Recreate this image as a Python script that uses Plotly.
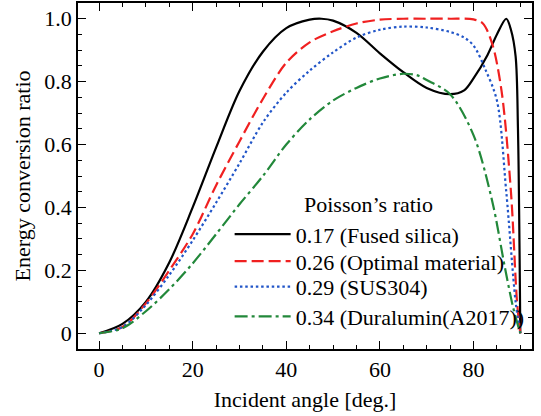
import plotly.graph_objects as go

# Fused silica, nu = 0.17
ang_fs = [0, 5, 10, 15, 20, 25, 30, 35, 40, 45, 47.5, 50, 55, 60, 65, 70, 75, 78, 80, 83, 85, 87, 88, 89, 89.5, 90]
val_fs = [0, 0.03, 0.10, 0.225, 0.40, 0.59, 0.77, 0.895, 0.97, 0.997, 1.0, 0.994, 0.955, 0.89, 0.83, 0.78, 0.76, 0.772, 0.81, 0.885, 0.95, 1.0, 0.965, 0.88, 0.65, 0]

# Optimal material, nu = 0.26
ang_om = [0, 5, 10, 15, 20, 25, 30, 35, 40, 45, 50, 55, 60, 65, 70, 75, 80, 82, 84, 86, 88, 89.3, 90]
val_om = [0, 0.02, 0.095, 0.20, 0.315, 0.47, 0.61, 0.745, 0.86, 0.925, 0.96, 0.985, 0.997, 1.0, 1.0, 1.0, 0.998, 0.985, 0.92, 0.77, 0.45, 0.1, 0]

# SUS304, nu = 0.29
ang_sus = [0, 5, 10, 15, 20, 25, 30, 35, 40, 45, 50, 55, 60, 65, 70, 75, 78, 80, 82.5, 85, 87, 89, 90]
val_sus = [0, 0.02, 0.09, 0.185, 0.295, 0.415, 0.54, 0.67, 0.765, 0.835, 0.893, 0.94, 0.965, 0.975, 0.972, 0.958, 0.94, 0.915, 0.84, 0.74, 0.45, 0.1, 0]

# Duralumin (A2017), nu = 0.34
ang_dur = [0, 5, 10, 15, 20, 25, 30, 35, 40, 45, 50, 55, 60, 65, 68, 70, 75, 80, 84, 86.7, 88.5, 90]
val_dur = [0, 0.016, 0.07, 0.14, 0.222, 0.315, 0.41, 0.50, 0.60, 0.68, 0.74, 0.78, 0.81, 0.825, 0.82, 0.805, 0.76, 0.63, 0.42, 0.21, 0.08, 0]

series = [
    (ang_fs, val_fs, "0.17 (Fused silica)", "black", "solid", "legend"),
    (ang_om, val_om, "0.26 (Optimal material)", "#f02020", "12px,5px", "legend2"),
    (ang_sus, val_sus, "0.29 (SUS304)", "#2155c8", "2.5px,2.8px", "legend3"),
    (ang_dur, val_dur, "0.34 (Duralumin(A2017))", "#22883a", "13px,4px,3px,4px", "legend4"),
]
legend_title = "Poisson’s ratio"

xticks = [0, 20, 40, 60, 80]
yticks = [0, 0.2, 0.4, 0.6, 0.8, 1.0]
yticktext = ["0", "0.2", "0.4", "0.6", "0.8", "1.0"]

fig = go.Figure()
for a, v, name, col, dash, lg in series:
    fig.add_trace(go.Scatter(x=a, y=v, mode="lines", name=name, legend=lg,
                             line=dict(color=col, width=2.2, dash=dash, shape="spline", smoothing=0.9)))

font = dict(family="Liberation Serif, Times New Roman, serif", size=22, color="black")
axis_common = dict(showgrid=False, zeroline=False, showline=True, linecolor="black", linewidth=1.5,
                   mirror="ticks", ticks="inside", ticklen=8, tickwidth=1.3, tickcolor="black",
                   tickfont=font, automargin=False)

leg_common = dict(x=0.334, xanchor="left", yanchor="middle", bgcolor="rgba(0,0,0,0)", borderwidth=0,
                  itemwidth=56, font=font)

fig.update_layout(
    width=541, height=416,
    margin=dict(l=78, r=9, t=3, b=67),
    paper_bgcolor="white", plot_bgcolor="white",
    font=font,
    showlegend=True,
    legend=dict(y=0.3316, **leg_common),
    legend2=dict(y=0.2536, **leg_common),
    legend3=dict(y=0.1796, **leg_common),
    legend4=dict(y=0.0938, **leg_common),
    annotations=[dict(text=legend_title, xref="paper", yref="paper", x=0.639, y=0.418,
                      xanchor="center", yanchor="middle", showarrow=False, font=font)],
    xaxis=dict(range=[-4.5, 92.5], tickvals=xticks,
               minor=dict(dtick=5, ticks="inside", ticklen=4, tickwidth=1.2, tickcolor="black"),
               title=dict(text="Incident angle [deg.]", font=font, standoff=10),
               **axis_common),
    yaxis=dict(range=[-0.05, 1.05], tickvals=yticks, ticktext=yticktext,
               minor=dict(dtick=0.05, ticks="inside", ticklen=4, tickwidth=1.2, tickcolor="black"),
               title=dict(text="Energy conversion ratio", font=font, standoff=8),
               **axis_common),
)

fig.write_html("out.html", config={"displayModeBar": False},
               post_script="document.body.style.margin='0';document.body.style.overflow='hidden';")
